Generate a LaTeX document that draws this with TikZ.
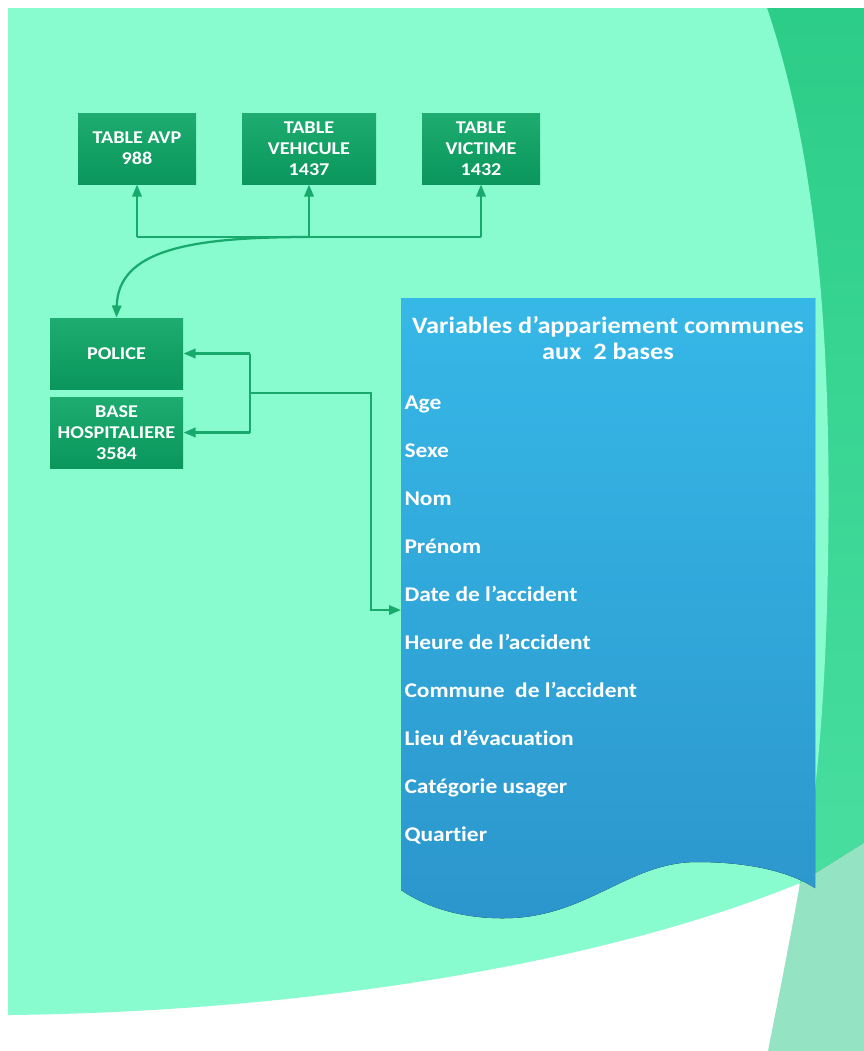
\documentclass[tikz,border=0pt]{standalone}
\usepackage{fontspec}
\setmainfont{Carlito}[FakeStretch=1.12,Ligatures={NoCommon}]
\usetikzlibrary{arrows.meta}

\definecolor{mintbg}{RGB}{137,252,207}
\definecolor{bandtop}{RGB}{44,205,136}
\definecolor{bandlow}{RGB}{72,222,160}
\definecolor{palegreen}{RGB}{148,227,195}
\definecolor{boxtop}{RGB}{30,172,112}
\definecolor{boxlow}{RGB}{10,150,92}
\definecolor{linkgreen}{RGB}{24,170,108}
\definecolor{doctop}{RGB}{54,184,231}
\definecolor{doclow}{RGB}{44,150,204}

\tikzset{every picture/.style={line width=0.75pt}}
\tikzset{
  tablebox/.style={top color=boxtop, bottom color=boxlow, draw=none, text=white,
    font=\fontsize{13.5}{15.75}\selectfont\bfseries, align=center,
    inner sep=0pt, minimum height=53.25pt},
  link/.style={draw=linkgreen, line width=1.7pt},
  linkarrow/.style={link, -{Triangle[length=9pt,width=7pt]}},
  doctitle/.style={text=white, font=\fontsize{17.6}{21}\selectfont\bfseries, inner sep=0pt, anchor=base},
  vartext/.style={text=white, font=\fontsize{15.7}{18}\selectfont\bfseries, inner sep=0pt, anchor=base west}
}

\begin{document}
\begin{tikzpicture}[x=0.75pt,y=0.75pt,yscale=-1,xscale=1]
\useasboundingbox (0,0) rectangle (864,1051);

%Background
\fill[white] (0,0) rectangle (864,1051);
\fill[top color=bandtop, bottom color=bandlow] (700,8) -- (864,8) -- (864,843) -- (800,883) -- (700,883) -- cycle;
\fill[palegreen] (800,883) -- (864,843) -- (864,1051) -- (768,1051) .. controls (780,990) and (792,930) .. (800,883) -- cycle;
\fill[mintbg] (8,8) -- (767,8) .. controls (815,150) and (832,330) .. (828,560)
  .. controls (826,700) and (815,820) .. (800,883)
  .. controls (600,965) and (300,1012) .. (8,1015) -- cycle;

%Tables
\node[tablebox, minimum width=88.5pt] (avp) at (137,148.5) {TABLE AVP\\988};
\node[tablebox, minimum width=100.5pt] (vehicule) at (309,148.5) {TABLE\\VEHICULE\\1437};
\node[tablebox, minimum width=88.5pt] (victime) at (481,148.5) {TABLE\\VICTIME\\1432};

%Bases
\node[tablebox, minimum width=99.75pt] (police) at (116.5,353.5) {POLICE};
\node[tablebox, minimum width=99.75pt] (base) at (116.5,432.5) {BASE\\HOSPITALIERE\\3584};

%Document shape
\fill[top color=doctop, bottom color=doclow] (401,298) -- (815,298) -- (815,888)
  .. controls (790,872) and (750,862) .. (697,862)
  .. controls (630,862) and (590,914) .. (513,918)
  .. controls (470,920) and (430,910) .. (401,890) -- cycle;
\coordinate (docin) at (401,610);

% Text Node
\node[doctitle] (title1) at (608,333) {Variables d’appariement communes};
\node[doctitle] (title2) at (608,359) {aux\ \ 2 bases};
\foreach \txt [count=\i from 0] in {Age,Sexe,Nom,Prénom,Date de l’accident,Heure de l’accident,Commune\ \ de l’accident,Lieu d’évacuation,Catégorie usager,Quartier}
  \node[vartext] (var\i) at (404,{409+48*\i}) {\txt};

%Links
\coordinate (bus) at (309,237);
\draw[link] (avp.south |- bus) -- (victime.south |- bus);
\foreach \n in {avp,vehicule,victime}
  \draw[linkarrow] (\n.south |- bus) -- (\n.south);
\draw[linkarrow] (vehicule.south |- bus) .. controls (190,237) and (118,250) .. (police.north);

\coordinate (fork) at (250,393);
\draw[link] (fork |- police.east) -- (fork |- base.east);
\draw[linkarrow] (fork |- police.east) -- (police.east);
\draw[linkarrow] (fork |- base.east) -- (base.east);
\draw[linkarrow] (fork) -- (371,393) -- (371,610) -- (docin);

\end{tikzpicture}
\end{document}
